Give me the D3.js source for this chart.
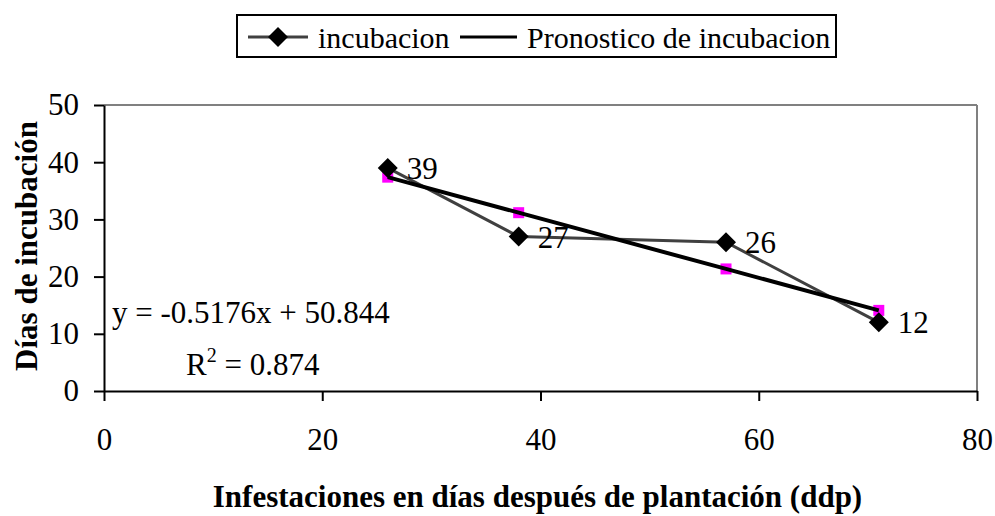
<!DOCTYPE html>
<html><head><meta charset="utf-8">
<script src="https://cdn.jsdelivr.net/npm/d3@7"></script>
<style>body{margin:0;background:#fff}svg{display:block}
svg text{font-family:"Liberation Serif","Times New Roman",Times,serif !important;}</style>
</head><body>
<script>
const xVals = [26, 38, 57, 71];
const yVals = [39, 27, 26, 12];
const xTicks = [0, 20, 40, 60, 80];
const yTicks = [0, 10, 20, 30, 40, 50];
const slope = -0.5176, intercept = 50.844;
const eqText = "y = -0.5176x + 50.844";
const r2Text = "0.874";
const seriesNames = ["incubacion", "Pronostico de incubacion"];

const W = 995, H = 516;
const svg = d3.select("body").append("svg").attr("width", W).attr("height", H);
const L = 104, R = 977, T = 105, B = 391;
const FS = 31;
const x = d3.scaleLinear().domain([0, 80]).range([L, R]);
const y = d3.scaleLinear().domain([0, 50]).range([B, T]);

svg.append("line").attr("x1", L).attr("x2", R).attr("y1", T).attr("y2", T).attr("stroke", "#808080").attr("stroke-width", 2);
svg.append("line").attr("x1", R).attr("x2", R).attr("y1", T).attr("y2", B).attr("stroke", "#808080").attr("stroke-width", 2);

const xAxis = svg.append("g").attr("transform", `translate(0,${B})`)
  .call(d3.axisBottom(x).tickValues(xTicks).tickSize(10).tickSizeOuter(0).tickPadding(27));
const yAxis = svg.append("g").attr("transform", `translate(${L},0)`)
  .call(d3.axisLeft(y).tickValues(yTicks).tickSize(10).tickSizeOuter(0).tickPadding(15));
[xAxis, yAxis].forEach(a => {
  a.select(".domain").attr("stroke", "#000").attr("stroke-width", 2);
  a.selectAll(".tick line").attr("stroke", "#000").attr("stroke-width", 2);
  a.selectAll(".tick text").attr("font-size", FS).attr("fill", "#000");
});

const pts = xVals.map((v, i) => ({x: v, y: yVals[i], p: slope * v + intercept}));

svg.append("path").datum(pts)
  .attr("d", d3.line().x(d => x(d.x)).y(d => y(d.y)))
  .attr("fill", "none").attr("stroke", "#404040").attr("stroke-width", 3);

svg.selectAll(".pm").data(pts).enter().append("rect")
  .attr("x", d => x(d.x) - 5.5).attr("y", d => y(d.p) - 5.5)
  .attr("width", 11).attr("height", 11).attr("fill", "#ff00ff");

svg.append("path").datum(pts)
  .attr("d", d3.line().x(d => x(d.x)).y(d => y(d.p)))
  .attr("fill", "none").attr("stroke", "#000").attr("stroke-width", 4);

const diamond = s => `M0,${-s}L${s},0L0,${s}L${-s},0Z`;
svg.selectAll(".dm").data(pts).enter().append("path")
  .attr("d", diamond(10)).attr("transform", d => `translate(${x(d.x)},${y(d.y)})`).attr("fill", "#000");

svg.selectAll(".lb").data(pts).enter().append("text")
  .attr("x", d => x(d.x) + 19).attr("y", d => y(d.y) + 11)
  .attr("font-size", FS).text(d => d.y);

svg.append("text").attr("x", 112).attr("y", 323).attr("font-size", FS).text(eqText);
const r2 = svg.append("text").attr("x", 186).attr("y", 375).attr("font-size", FS);
r2.append("tspan").text("R");
r2.append("tspan").attr("dy", -13).attr("font-size", 20).text("2");
r2.append("tspan").attr("dy", 13).text(" = " + r2Text);

svg.append("text").attr("x", (L + R) / 2 - 3).attr("y", 507).attr("text-anchor", "middle")
  .attr("font-size", 31).attr("font-weight", "bold")
  .text("Infestaciones en días después de plantación (ddp)");
svg.append("text").attr("transform", `translate(37,246) rotate(-90)`).attr("text-anchor", "middle")
  .attr("font-size", 31).attr("font-weight", "bold")
  .text("Días de incubación");

const lg = svg.append("g");
lg.append("rect").attr("x", 237).attr("y", 15).attr("width", 599).attr("height", 42)
  .attr("fill", "#fff").attr("stroke", "#000").attr("stroke-width", 2);
lg.append("line").attr("x1", 248).attr("x2", 308).attr("y1", 37).attr("y2", 37).attr("stroke", "#404040").attr("stroke-width", 3);
lg.append("path").attr("d", diamond(10)).attr("transform", "translate(278,37)").attr("fill", "#000");
lg.append("text").attr("x", 318).attr("y", 48).attr("font-size", 30).text(seriesNames[0]);
lg.append("line").attr("x1", 460).attr("x2", 517).attr("y1", 37).attr("y2", 37).attr("stroke", "#000").attr("stroke-width", 3);
lg.append("text").attr("x", 527).attr("y", 48).attr("font-size", 30).text(seriesNames[1]);
</script>
</body></html>
